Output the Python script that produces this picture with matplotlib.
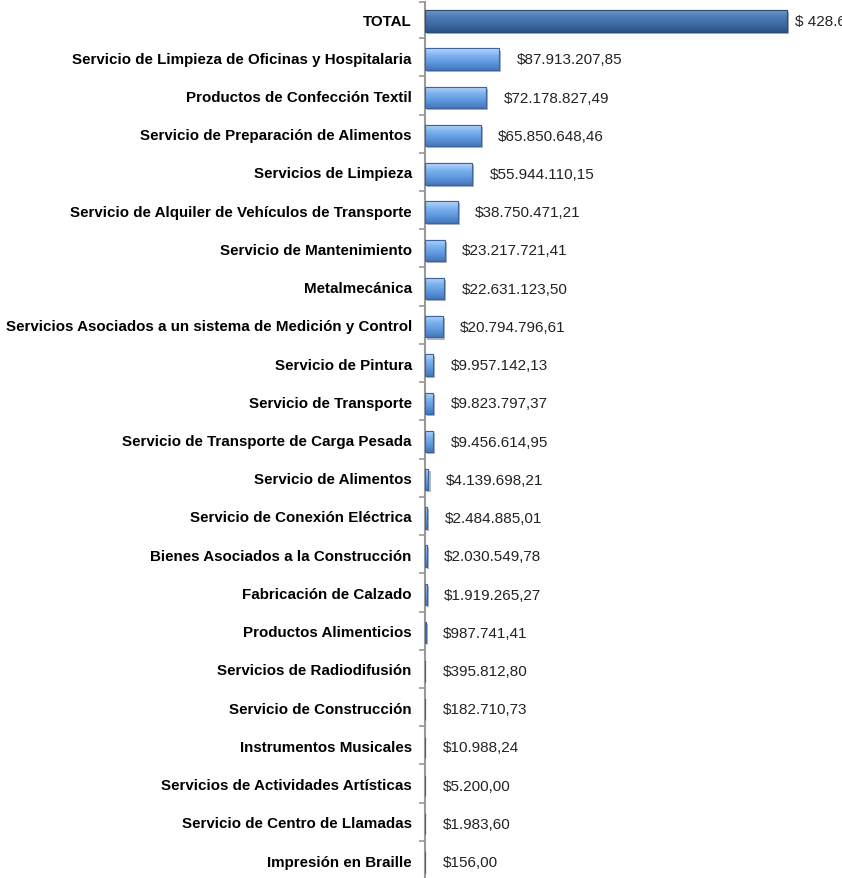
import numpy as np
import matplotlib
matplotlib.use('Agg')
import matplotlib.pyplot as plt
import matplotlib.patheffects as pe
from matplotlib.colors import LinearSegmentedColormap

plt.rcParams['font.family'] = ['Liberation Sans', 'DejaVu Sans']

# contract categories and amounts (pesos)
categorias = [
    "Servicio de Limpieza de Oficinas y Hospitalaria",
    "Productos de Confección Textil",
    "Servicio de Preparación de Alimentos",
    "Servicios de Limpieza",
    "Servicio de Alquiler de Vehículos de Transporte",
    "Servicio de Mantenimiento",
    "Metalmecánica",
    "Servicios Asociados a un sistema de Medición y Control",
    "Servicio de Pintura",
    "Servicio de Transporte",
    "Servicio de Transporte de Carga Pesada",
    "Servicio de Alimentos",
    "Servicio de Conexión Eléctrica",
    "Bienes Asociados a la Construcción",
    "Fabricación de Calzado",
    "Productos Alimenticios",
    "Servicios de Radiodifusión",
    "Servicio de Construcción",
    "Instrumentos Musicales",
    "Servicios de Actividades Artísticas",
    "Servicio de Centro de Llamadas",
    "Impresión en Braille",
]
montos = [
    87913207.85, 72178827.49, 65850648.46, 55944110.15, 38750471.21,
    23217721.41, 22631123.50, 20794796.61, 9957142.13, 9823797.37,
    9456614.95, 4139698.21, 2484885.01, 2030549.78, 1919265.27,
    987741.41, 395812.80, 182710.73, 10988.24, 5200.00, 1983.60, 156.00,
]
total = sum(montos)

etiquetas = ["TOTAL"] + categorias
valores = [total] + montos


def pesos(v, sep=""):
    s = f"{v:,.2f}".replace(",", "_").replace(".", ",").replace("_", ".")
    return "$" + sep + s


fig = plt.figure(figsize=(8.42, 8.79), dpi=100)
ax = fig.add_axes([425 / 842, 0, 417 / 842, 876 / 879])

y = np.arange(len(valores))
h = 0.56

cmap_reg = LinearSegmentedColormap.from_list("reg", ["#b8d7f8", "#7cb2ee", "#5e97de", "#4577bb"])
cmap_tot = LinearSegmentedColormap.from_list("tot", ["#7097c9", "#4c79b3", "#3e69a1", "#2d5388"])
grad = np.linspace(0, 1, 64).reshape(-1, 1)

for i, (yy, v) in enumerate(zip(y, valores)):
    cm = cmap_tot if i == 0 else cmap_reg
    edge = "#2b4a74" if i == 0 else "#3d64a0"
    bar = ax.barh(yy + 0.05, v, height=h, color=cm(0.5), edgecolor=edge, linewidth=0.8,
                  zorder=2)[0]
    bar.set_path_effects([pe.SimplePatchShadow(offset=(1.5, -1.5), alpha=0.35),
                          pe.Normal()])
    im = ax.imshow(grad, cmap=cm, aspect="auto", zorder=3,
                   extent=(0, v, yy + 0.05 + h / 2, yy + 0.05 - h / 2))
    im.set_clip_path(bar)
    ax.barh(yy + 0.05, v, height=h, color="none", edgecolor=edge, linewidth=0.8, zorder=4)

    if i == 0:
        ax.annotate(pesos(v, " "), (v, yy), xytext=(5.5, -1.5), textcoords="offset points",
                    va="center", ha="left", fontsize=11, color="#222222",
                    annotation_clip=False)
    else:
        ax.annotate(pesos(v), (v, yy), xytext=(12.5, -1.5), textcoords="offset points",
                    va="center", ha="left", fontsize=11, color="#222222")

ax.set_xlim(0, 417 / 0.845 * 1e6)
ax.set_ylim(22.47, -0.445)

ax.set_yticks(y)
ax.set_yticklabels(etiquetas, fontsize=10.9, fontweight="bold")
ax.tick_params(axis="y", which="major", length=0, pad=9.5)
ax.set_yticks(np.r_[-0.44, y[:-1] + 0.5], minor=True)
ax.tick_params(axis="y", which="minor", length=4, width=1.2, color="#9a9a9a")
ax.set_xticks([])

for s in ["top", "right", "bottom"]:
    ax.spines[s].set_visible(False)
ax.spines["left"].set_color("#9a9a9a")
ax.spines["left"].set_linewidth(1.5)

fig.savefig("out.png", dpi=100)
